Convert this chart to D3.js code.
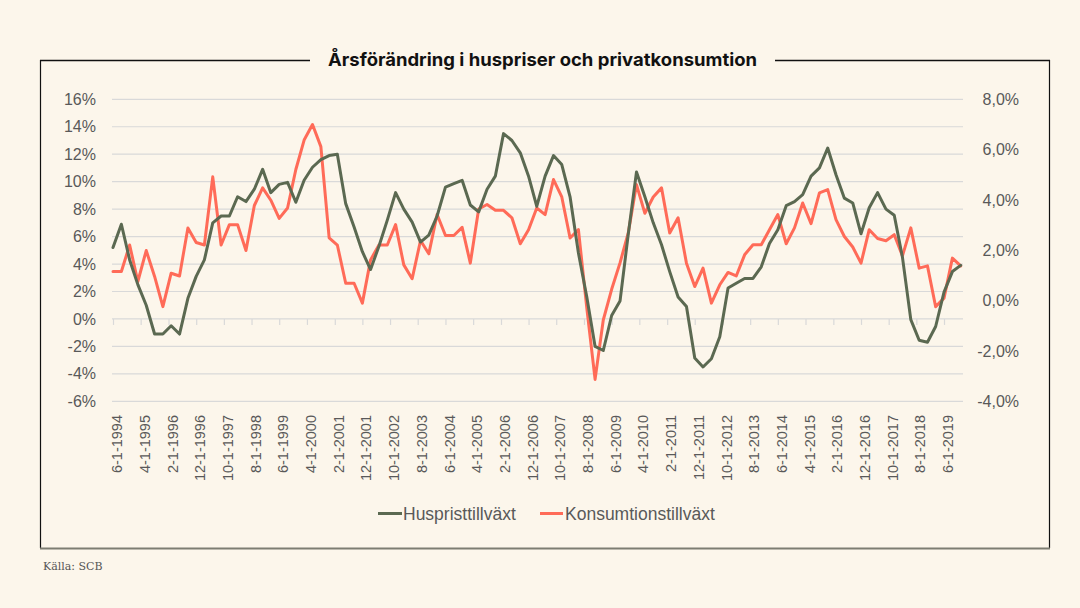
<!DOCTYPE html>
<html>
<head>
<meta charset="utf-8">
<script src="https://cdn.jsdelivr.net/npm/d3@7"></script>
<style>
  html, body { margin: 0; padding: 0; background: #fcf6eb; }
  svg { display: block; }
</style>
</head>
<body>
<svg id="chart" width="1080" height="608"></svg>
<script>
// ---- Data (quarterly, starting 6-1-1994) ----
const startDate = "1994-06-01";
const husprisTillvaxt = [
  5.2, 6.9, 4.3, 2.5, 1.0, -1.1, -1.1, -0.5, -1.1, 1.5,
  3.1, 4.3, 7.0, 7.5, 7.5, 8.9, 8.55, 9.45, 10.9, 9.2,
  9.8, 9.95, 8.5, 10.1, 11.05, 11.6, 11.9, 12.0, 8.4, 6.7,
  4.9, 3.6, 5.3, 7.2, 9.2, 8.0, 7.05, 5.6, 6.1, 7.5,
  9.6, 9.85, 10.1, 8.3, 7.8, 9.45, 10.4, 13.5, 13.0, 12.1,
  10.4, 8.2, 10.4, 11.9, 11.25, 8.9, 4.8, 1.6, -2.0, -2.3,
  0.25, 1.3, 6.2, 10.7, 8.9, 7.0, 5.4, 3.45, 1.6, 0.9,
  -2.85, -3.5, -2.9, -1.3, 2.25, 2.6, 2.95, 2.95, 3.8, 5.5,
  6.5, 8.25, 8.55, 9.05, 10.4, 11.0, 12.45, 10.5, 8.8, 8.45,
  6.2, 8.1, 9.2, 8.0, 7.55, 4.5, -0.05, -1.55, -1.7, -0.55,
  1.95, 3.45, 3.9
];
const konsumtionTillvaxt = [
  1.16, 1.16, 2.21, 0.76, 1.99, 0.96, -0.24, 1.09, 0.98, 2.89,
  2.31, 2.21, 4.92, 2.21, 3.02, 3.02, 1.99, 3.78, 4.48, 3.99,
  3.27, 3.68, 5.21, 6.38, 7.0, 6.12, 2.49, 2.21, 0.69, 0.69,
  -0.1, 1.62, 2.21, 2.21, 3.02, 1.42, 0.87, 2.39, 1.86, 3.42,
  2.59, 2.59, 2.91, 1.49, 3.64, 3.82, 3.59, 3.59, 3.29, 2.26,
  2.82, 3.68, 3.42, 4.81, 4.12, 2.49, 2.82, -0.3, -3.13, -0.77,
  0.45, 1.5, 2.7, 4.61, 3.47, 4.12, 4.48, 2.69, 3.29, 1.49,
  0.56, 1.29, -0.1, 0.63, 1.12, 0.98, 1.82, 2.22, 2.22, 2.82,
  3.42, 2.26, 2.89, 3.88, 3.06, 4.28, 4.41, 3.22, 2.55, 2.13,
  1.49, 2.82, 2.47, 2.38, 2.62, 1.78, 2.89, 1.29, 1.38, -0.24,
  0.1, 1.69, 1.38
];
const xTickLabels = [
  "6-1-1994","4-1-1995","2-1-1996","12-1-1996","10-1-1997","8-1-1998","6-1-1999",
  "4-1-2000","2-1-2001","12-1-2001","10-1-2002","8-1-2003","6-1-2004","4-1-2005",
  "2-1-2006","12-1-2006","10-1-2007","8-1-2008","6-1-2009","4-1-2010","2-1-2011",
  "12-1-2011","10-1-2012","8-1-2013","6-1-2014","4-1-2015","2-1-2016","12-1-2016",
  "10-1-2017","8-1-2018","6-1-2019"
];
const leftTicks = [-6, -4, -2, 0, 2, 4, 6, 8, 10, 12, 14, 16];
const rightTicks = [-4, -2, 0, 2, 4, 6, 8];
const seriesNames = ["Huspristtillväxt", "Konsumtionstillväxt"];
const title = "Årsförändring i huspriser och privatkonsumtion";
const source = "Källa: SCB";

// ---- Setup ----
const colors = { hus: "#5b6951", kons: "#ff6b58" };
const svg = d3.select("#chart");
svg.append("rect").attr("width", 1080).attr("height", 608).attr("fill", "#fcf6eb");

const parseMDY = d3.timeParse("%m-%d-%Y");
const start = d3.timeParse("%Y-%m-%d")(startDate);
const dates = husprisTillvaxt.map((_, i) => d3.timeMonth.offset(start, 3 * i));

const x = d3.scaleTime()
  .domain([start, new Date(2020, 0, 1)])
  .range([113, 963.5]);
const yL = d3.scaleLinear().domain([-6, 16]).range([401.3, 99.3]);
const yR = d3.scaleLinear().domain([-4, 8]).range([401.3, 99.3]);

// ---- Frame ----
const frame = svg.append("g");
frame.append("line").attr("x1", 40.5).attr("x2", 40.5).attr("y1", 60).attr("y2", 548)
  .attr("stroke", "#111").attr("stroke-width", 1.2);
frame.append("line").attr("x1", 1049.5).attr("x2", 1049.5).attr("y1", 60).attr("y2", 548)
  .attr("stroke", "#111").attr("stroke-width", 1.2);
frame.append("line").attr("x1", 40).attr("x2", 310).attr("y1", 60.5).attr("y2", 60.5)
  .attr("stroke", "#111").attr("stroke-width", 1.3);
frame.append("line").attr("x1", 775).attr("x2", 1050).attr("y1", 60.5).attr("y2", 60.5)
  .attr("stroke", "#111").attr("stroke-width", 1.3);
frame.append("line").attr("x1", 40).attr("x2", 1050).attr("y1", 548.5).attr("y2", 548.5)
  .attr("stroke", "#7d7d72").attr("stroke-width", 2.2);

svg.append("text")
  .attr("x", 542.5).attr("y", 60).attr("dy", "0.35em")
  .attr("text-anchor", "middle")
  .attr("font-family", "Inter, 'Liberation Sans', sans-serif")
  .attr("font-weight", 700).attr("font-size", 18)
  .attr("textLength", 429).attr("lengthAdjust", "spacingAndGlyphs")
  .attr("fill", "#111")
  .text(title);

// ---- Gridlines ----
const [xMin, xMax] = [112, 963];
svg.append("g").selectAll("line").data(leftTicks).join("line")
  .attr("x1", xMin).attr("x2", xMax)
  .attr("y1", d => yL(d)).attr("y2", d => yL(d))
  .attr("stroke", "#d9d9d9").attr("stroke-width", 1.2);

// ---- X axis (at 0%) ----
const tickDates = xTickLabels.map(parseMDY);
const xAxis = d3.axisBottom(x).tickValues(tickDates).tickSize(6).tickFormat("");
const gx = svg.append("g").attr("transform", `translate(0,${yL(0)})`).call(xAxis);
gx.select(".domain").remove();
gx.selectAll(".tick line").attr("stroke", "#d9d9d9").attr("stroke-width", 1.2);

svg.append("g").selectAll("text").data(tickDates).join("text")
  .attr("transform", (d) => `translate(${x(d) + 4},415) rotate(-90)`)
  .attr("text-anchor", "end").attr("dy", "0.35em")
  .attr("font-family", "'Liberation Sans', Arial, sans-serif")
  .attr("font-size", 14.5).attr("fill", "#595959")
  .text((d, i) => xTickLabels[i]);

// ---- Y axes ----
const gyl = svg.append("g").attr("transform", "translate(96,0)")
  .call(d3.axisLeft(yL).tickValues(leftTicks).tickSize(0).tickPadding(0).tickFormat(d => `${d}%`));
gyl.select(".domain").remove();
gyl.selectAll("text").attr("font-family", "'Liberation Sans', Arial, sans-serif")
  .attr("font-size", 16).attr("fill", "#595959");

const fmtR = d3.formatLocale({ decimal: ",", thousands: " ", grouping: [3], currency: ["", ""], minus: "-" }).format(".1f");
const gyr = svg.append("g").attr("transform", "translate(1019,0)")
  .call(d3.axisLeft(yR).tickValues(rightTicks).tickSize(0).tickPadding(0).tickFormat(d => `${fmtR(d)}%`));
gyr.select(".domain").remove();
gyr.selectAll("text").attr("font-family", "'Liberation Sans', Arial, sans-serif")
  .attr("font-size", 16).attr("fill", "#595959");

// ---- Lines ----
const lineL = d3.line().x((d, i) => x(dates[i])).y(d => yL(d));
const lineR = d3.line().x((d, i) => x(dates[i])).y(d => yR(d));

svg.append("path").datum(konsumtionTillvaxt).attr("d", lineR)
  .attr("fill", "none").attr("stroke", colors.kons).attr("stroke-width", 3)
  .attr("stroke-linejoin", "round").attr("stroke-linecap", "round");
svg.append("path").datum(husprisTillvaxt).attr("d", lineL)
  .attr("fill", "none").attr("stroke", colors.hus).attr("stroke-width", 3)
  .attr("stroke-linejoin", "round").attr("stroke-linecap", "round");

// ---- Legend ----
const legend = [
  { name: seriesNames[0], color: colors.hus, x1: 378, x2: 402, tx: 403 },
  { name: seriesNames[1], color: colors.kons, x1: 540, x2: 563, tx: 565 }
];
const lg = svg.append("g");
legend.forEach(l => {
  lg.append("line").attr("x1", l.x1).attr("x2", l.x2).attr("y1", 513.5).attr("y2", 513.5)
    .attr("stroke", l.color).attr("stroke-width", 3);
  lg.append("text").attr("x", l.tx).attr("y", 513.5).attr("dy", "0.35em")
    .attr("font-family", "'Liberation Sans', Arial, sans-serif")
    .attr("font-size", 17.5).attr("fill", "#595959").text(l.name);
});

// ---- Source ----
svg.append("text").attr("x", 43).attr("y", 570)
  .attr("font-family", "'DejaVu Serif', serif").attr("font-size", 11)
  .attr("fill", "#555").text(source);
</script>
</body>
</html>
